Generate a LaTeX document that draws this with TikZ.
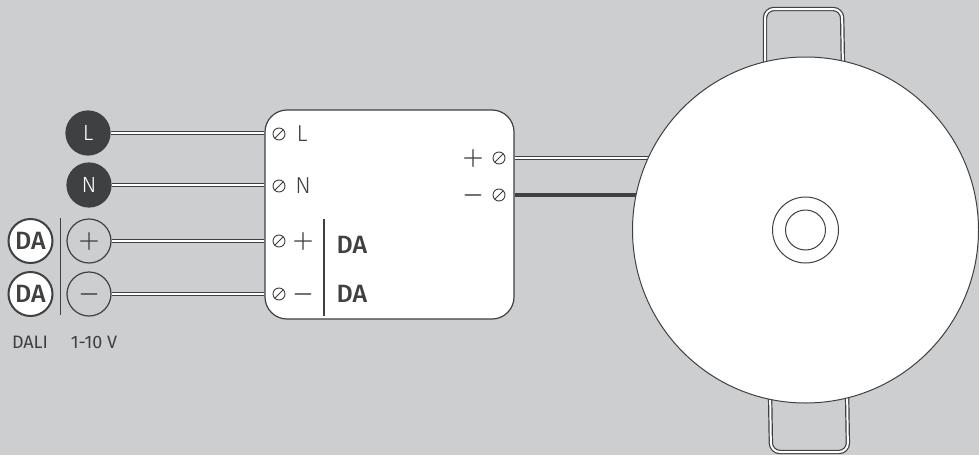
\documentclass[tikz,border=0pt]{standalone}
\usepackage{fontspec}
\setmainfont{Fira Sans}
\newfontfamily\medfont{Fira Sans Medium}
\newfontfamily\thinfont{Fira Sans Light}
\definecolor{bgcol}{HTML}{CDCED0}
\definecolor{darkcol}{HTML}{3F4042}
\tikzset{
  cable/.style={draw=darkcol, line width=0.6pt, double=white, double distance=1pt},
  blackcable/.style={draw=darkcol, line width=2pt},
  term/.style={circle, draw=darkcol, line width=0.6pt, minimum size=22pt, inner sep=0pt, font=\thinfont\fontsize{11}{13}\selectfont},
  dark/.style={term, fill=darkcol, text=white},
  dabox/.style={term, fill=white, text=darkcol, line width=1pt, font=\medfont\fontsize{12.5}{14}\selectfont},
  screw/.style={circle, draw=darkcol, line width=0.45pt, minimum size=6pt, inner sep=0pt, path picture={\draw[darkcol, line width=0.4pt] (path picture bounding box.south west) -- (path picture bounding box.north east);}},
  lab/.style={text=darkcol, inner sep=0pt, font=\thinfont\fontsize{11.5}{13}\selectfont},
  dalab/.style={text=darkcol, inner sep=0pt, font=\medfont\fontsize{12.5}{14}\selectfont},
  sign/.style={text=darkcol, inner sep=0pt, font=\boldmath\fontsize{11.5}{14}\selectfont},
  small/.style={text=darkcol, inner sep=0pt, font=\fontsize{9}{11}\selectfont}
}
\begin{document}
\begin{tikzpicture}[x=0.5pt,y=-0.5pt]

\fill[bgcol] (0,0) rectangle (979,455);
\useasboundingbox (0,0) rectangle (979,455);

\coordinate (P) at (660,158);
\coordinate (M) at (660,195);

\node[dark] (cL) at (88,133) {L};
\node[dark] (cN) at (89,185) {N};
\node[term, text=darkcol, font=\boldmath\fontsize{11.5}{14}\selectfont] (cP) at (89,241) {$+$};
\node[term, text=darkcol, font=\boldmath\fontsize{11.5}{14}\selectfont] (cM) at (89,294) {$-$};
\node[dabox] (dP) at (30.5,241) {DA};
\node[dabox] (dM) at (30.5,294) {DA};
\coordinate (barA) at (60.5,218);
\coordinate (barB) at (60.5,315);
\draw[darkcol, line width=0.7pt] (barA) -- (barB);

\node[small] (dali) at (30,342) {DALI};
\node[small] (volt) at (94,342) {1-10 V};

% module
\node[draw=darkcol, fill=white, line width=0.6pt, rounded corners=11pt, minimum width=124.5pt, minimum height=104.5pt, inner sep=0pt] (box) at (389.5,214.5) {};

\draw[cable] (cL.east) -- (cL.east -| box.west);
\draw[cable] (cN.east) -- (cN.east -| box.west);
\draw[cable] (cP.east) -- (cP.east -| box.west);
\draw[cable] (cM.east) -- (cM.east -| box.west);
\draw[cable] (P -| box.east) -- (P);
\draw[blackcable] (M -| box.east) -- (M);

\node[screw] (sL) at (279,134) {};
\node[screw] (sN) at (279,186) {};
\node[screw] (sP) at (279,241) {};
\node[screw] (sM) at (279,294) {};
\node[screw] (sQ) at (499,158) {};
\node[screw] (sR) at (499,195) {};

\node[lab] (tL) at (302,134) {L};
\node[lab] (tN) at (303,186) {N};
\node[sign] (tP) at (303,241) {$+$};
\node[sign] (tM) at (303,294) {$-$};
\node[dalab] (tA) at (352,245) {DA};
\node[dalab] (tB) at (352,294) {DA};
\node[sign] (tQ) at (473,158) {$+$};
\node[sign] (tR) at (473,195) {$-$};
\coordinate (barC) at (324,219);
\coordinate (barD) at (324,316);
\draw[darkcol, line width=0.7pt] (barC) -- (barD);

% lamp
\draw[cable, rounded corners=4.5pt] (765,70) -- (765,9) -- (842,9) -- (843,70);
\draw[cable, rounded corners=4.5pt] (770,390) -- (771,452) -- (848,452) -- (847,390);
\node[circle, draw=darkcol, fill=white, line width=0.5pt, minimum size=173pt, inner sep=0pt] (lamp) at (805.5,230) {};
\node[circle, draw=darkcol, line width=0.5pt, minimum size=33pt, inner sep=0pt] (ringA) at (lamp.center) {};
\node[circle, draw=darkcol, line width=0.5pt, minimum size=20pt, inner sep=0pt] (ringB) at (lamp.center) {};

\end{tikzpicture}
\end{document}
